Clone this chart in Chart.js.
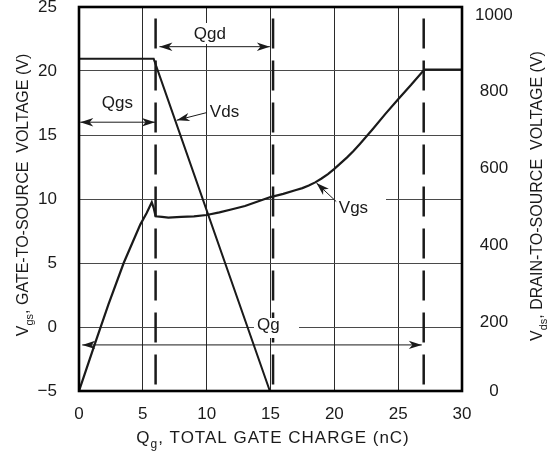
<!DOCTYPE html>
<html>
<head>
<meta charset="utf-8">
<script src="https://cdn.jsdelivr.net/npm/chart.js@4.4.1/dist/chart.umd.min.js"></script>
<style>
  html, body { margin: 0; padding: 0; background: #fff; }
  #wrap { width: 552px; height: 453px; position: relative; }
</style>
</head>
<body>
<div id="wrap"><canvas id="c"></canvas></div>
<script>
// Gate charge curve.
// Vgs on the left axis (V), Vds on the right axis (V), both vs Qg (nC).
const chargeVgs = [0, 1.25, 2.3, 3.5, 4.8, 5.3, 5.7, 5.85, 6.0, 6.5, 7, 8, 9, 10, 11, 12, 13, 14, 15,
  16, 17, 17.5, 18, 18.5, 19, 19.5, 20, 20.5, 21, 21.5, 22, 23, 24, 25, 26, 26.95, 27.1, 30];
const vgsValues = [-5, -1.3, 1.75, 5.0, 8.0, 8.9, 9.75, 9.3, 8.65, 8.6, 8.55, 8.6, 8.65, 8.75, 8.95, 9.2, 9.45, 9.8, 10.15,
  10.4, 10.7, 10.85, 11.05, 11.3, 11.6, 11.95, 12.35, 12.8, 13.25, 13.75, 14.3, 15.45, 16.65, 17.8, 18.9, 20.0, 20.1, 20.1];

const chargeVds = [0, 5.85, 14.95, 30];
const vdsValues = [865, 865, 0, 0];

// dashed markers at the end of Qgs, Qgd and Qg
const chargeMarks = [6.0, 15.2, 27.0];
const markTop = 24.1;

const xTicks = [0, 5, 10, 15, 20, 25, 30];
const vgsTicks = [-5, 0, 5, 10, 15, 20, 25];
const vdsTicks = [0, 200, 400, 600, 800, 1000];

const FONT = '"Liberation Sans", Arial, Helvetica, sans-serif';
const INK = '#1a1a1a';
const CLEAR = 'rgba(0,0,0,0)';

const toPts = (xs, ys) => xs.map((x, i) => ({ x, y: ys[i] }));

const datasets = [
  { label: 'Vgs', data: toPts(chargeVgs, vgsValues), yAxisID: 'y', borderColor: INK, borderWidth: 2.2 },
  { label: 'Vds', data: toPts(chargeVds, vdsValues), yAxisID: 'y1', borderColor: INK, borderWidth: 2 },
].concat(chargeMarks.map(q => ({
  label: 'mark ' + q,
  data: [{ x: q, y: markTop }, { x: q, y: vgsTicks[0] }],
  yAxisID: 'y', borderColor: INK, borderWidth: 2.5, borderDash: [30, 12],
})));
datasets.forEach(d => { d.pointRadius = 0; d.tension = 0; d.fill = false; });

// ---- annotation helpers (data units, converted through the scales) ----
function arrowHead(ctx, x, y, ang) {
  const len = 13, half = 4.2;
  ctx.save();
  ctx.translate(x, y);
  ctx.rotate(ang);
  ctx.beginPath();
  ctx.moveTo(0, 0);
  ctx.lineTo(-len, -half);
  ctx.lineTo(-len * 0.72, 0);
  ctx.lineTo(-len, half);
  ctx.closePath();
  ctx.fill();
  ctx.restore();
}

function arrow(ctx, x1, y1, x2, y2, both) {
  ctx.beginPath();
  ctx.moveTo(x1, y1);
  ctx.lineTo(x2, y2);
  ctx.stroke();
  const a = Math.atan2(y2 - y1, x2 - x1);
  arrowHead(ctx, x2, y2, a);
  if (both) arrowHead(ctx, x1, y1, a + Math.PI);
}

function drawParts(ctx, parts, cx, baseY, spacing) {
  ctx.letterSpacing = (spacing || 0) + 'px';
  let total = 0;
  parts.forEach(p => { ctx.font = p.size + 'px ' + FONT; p.w = ctx.measureText(p.t).width; total += p.w; });
  let x = cx - total / 2;
  ctx.textAlign = 'left';
  ctx.textBaseline = 'alphabetic';
  parts.forEach(p => {
    ctx.font = p.size + 'px ' + FONT;
    ctx.fillText(p.t, x, baseY + (p.dy || 0));
    x += p.w;
  });
  ctx.letterSpacing = '0px';
}

const annotate = {
  id: 'annotate',
  beforeDraw(chart) {
    // the right-hand "0" label sits on the frame corner, the rest ride a little lower
    const items = chart.scales.y1.getLabelItems();
    items.forEach(it => { if (it.label === '0') it.options.translation[1] -= 8; });
  },
  afterDatasetsDraw(chart) {
    const { ctx, scales: { x: xs, y: ys } } = chart;
    const px = q => xs.getPixelForValue(q);
    const py = v => ys.getPixelForValue(v);
    ctx.save();
    ctx.strokeStyle = INK;
    ctx.lineWidth = 1;

    // white boxes behind labels that sit on the grid
    ctx.fillStyle = '#fff';
    ctx.fillRect(191, 23, 38, 21);   // Qgd
    ctx.fillRect(254, 318, 45, 20);  // Qg
    ctx.fillRect(335, 198, 51, 19);  // Vgs
    ctx.fillStyle = INK;

    // span arrows
    arrow(ctx, px(0.1), py(16), px(5.95), py(16), true);       // Qgs
    arrow(ctx, px(6.3), py(21.9), px(14.95), py(21.9), true);  // Qgd
    arrow(ctx, px(0.25), py(-1.4), px(26.85), py(-1.4), true); // Qg

    // leaders to the curves
    arrow(ctx, px(10.0), py(16.75), px(7.65), py(16.15), false); // Vds
    arrow(ctx, px(20.15), py(9.8), px(18.6), py(11.25), false);  // Vgs

    ctx.font = '17px ' + FONT;
    ctx.textBaseline = 'middle';
    ctx.textAlign = 'center';
    ctx.fillText('Qgs', px(3.0), py(17.5));
    ctx.fillText('Qgd', px(10.25), py(22.9));
    ctx.textAlign = 'left';
    ctx.fillText('Qg', px(13.95), py(0.1));
    ctx.fillText('Vds', px(10.25), py(16.75));
    ctx.fillText('Vgs', px(20.35), py(9.3));
    ctx.restore();
  },
  afterDraw(chart) {
    const { ctx, chartArea: a } = chart;
    ctx.save();
    ctx.strokeStyle = '#000';
    ctx.lineWidth = 2.6;
    ctx.strokeRect(a.left, a.top, a.right - a.left, a.bottom - a.top);

    ctx.fillStyle = INK;
    // x title
    drawParts(ctx, [
      { t: 'Q', size: 17 }, { t: 'g', size: 12, dy: 5 }, { t: ', TOTAL GATE CHARGE (nC)', size: 17 },
    ], 273, 443, 1);

    // left title
    ctx.save();
    ctx.translate(28, 195);
    ctx.rotate(-Math.PI / 2);
    drawParts(ctx, [
      { t: 'V', size: 16 }, { t: 'gs', size: 11, dy: 5 }, { t: ', GATE-TO-SOURCE  VOLTAGE (V)', size: 16 },
    ], 0, 0);
    ctx.restore();

    // right title
    ctx.save();
    ctx.translate(542, 196);
    ctx.rotate(-Math.PI / 2);
    drawParts(ctx, [
      { t: 'V', size: 16 }, { t: 'ds', size: 11, dy: 5 }, { t: ', DRAIN-TO-SOURCE  VOLTAGE (V)', size: 16 },
    ], 0, 0);
    ctx.restore();
    ctx.restore();
  },
};

const tickFont = { family: FONT, size: 17, lineHeight: 0.8 };

new Chart(document.getElementById('c'), {
  type: 'line',
  data: { datasets },
  plugins: [annotate],
  options: {
    responsive: true,
    maintainAspectRatio: false,
    animation: false,
    events: [],
    layout: { padding: { top: 7, left: 0, right: 0, bottom: 0 } },
    plugins: { legend: { display: false }, tooltip: { enabled: false } },
    scales: {
      x: {
        type: 'linear', min: 0, max: 30,
        afterBuildTicks: s => { s.ticks = xTicks.map(value => ({ value })); },
        afterFit: s => { s.height = 62; },
        grid: { color: '#2a2a2a', lineWidth: 1, drawTicks: false },
        border: { display: false },
        ticks: { color: INK, font: { family: FONT, size: 17 }, padding: 13, maxRotation: 0 },
      },
      y: {
        type: 'linear', position: 'left', min: -5, max: 25,
        afterBuildTicks: s => { s.ticks = vgsTicks.map(value => ({ value })); },
        afterFit: s => { s.width = 79; },
        // invisible tick marks carry the label gap, so ticks.padding stays 0
        grid: { color: '#4a4a4a', lineWidth: 1, drawTicks: true, tickLength: 22, tickColor: CLEAR },
        border: { display: false },
        ticks: {
          color: INK, font: tickFont, padding: 0,
          callback: v => (v < 0 ? '\u2212' + Math.abs(v) : String(v)),
        },
      },
      y1: {
        type: 'linear', position: 'right', min: 0, max: 1000,
        afterBuildTicks: s => { s.ticks = vdsTicks.map(value => ({ value })); },
        afterFit: s => { s.width = 90; },
        grid: { drawOnChartArea: false, drawTicks: true, tickLength: 13, tickColor: CLEAR, color: CLEAR },
        border: { display: false },
        ticks: {
          color: INK, font: tickFont, padding: 0, crossAlign: 'center', labelOffset: 8,
          callback: v => String(v),
        },
      },
    },
  },
});
</script>
</body>
</html>
